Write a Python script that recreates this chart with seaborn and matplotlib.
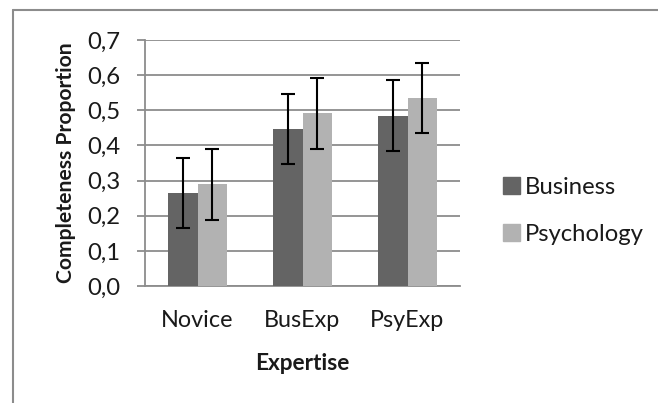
import matplotlib
matplotlib.use("Agg")
import matplotlib.pyplot as plt
import seaborn as sns
import pandas as pd
import numpy as np
from matplotlib.lines import Line2D
from matplotlib.patches import Rectangle

categories = ["Novice", "BusExp", "PsyExp"]
series = ["Business", "Psychology"]
business = [0.264, 0.446, 0.485]
psychology = [0.289, 0.491, 0.535]
business_err = [0.10, 0.10, 0.10]
psychology_err = [0.10, 0.10, 0.10]
yticks = [0.0, 0.1, 0.2, 0.3, 0.4, 0.5, 0.6, 0.7]
ytick_labels = ["0,0", "0,1", "0,2", "0,3", "0,4", "0,5", "0,6", "0,7"]

sns.set_theme(style="white")
plt.rcParams['font.family'] = ['Lato', 'DejaVu Sans']

df = pd.DataFrame({
    "Expertise": categories * 2,
    "Series": [series[0]] * 3 + [series[1]] * 3,
    "Value": business + psychology,
})
errs = business_err + psychology_err

fig = plt.figure(figsize=(6.58, 4.03), dpi=100)
ax = fig.add_axes([145/658, 1-286/403, (460-145)/658, (286-40)/403])

colors = {"Business": "#646464", "Psychology": "#b2b2b2"}
sns.barplot(data=df, x="Expertise", y="Value", hue="Series", order=categories,
            hue_order=series, palette=colors, width=0.57, gap=0, errorbar=None,
            legend=False, ax=ax, saturation=1, zorder=3, linewidth=0)

patches = list(ax.patches)
for s_i, s in enumerate(series):
    for c_i, c in enumerate(categories):
        p = patches[s_i * 3 + c_i]
        x = p.get_x() + p.get_width() / 2
        v = df[(df.Series == s) & (df.Expertise == c)].Value.values[0]
        e = errs[s_i * 3 + c_i]
        ax.errorbar([x], [v], yerr=[e], fmt="none", ecolor="black", elinewidth=1.5,
                    capsize=5, capthick=1.5, zorder=4)

ax.set_xlim(-0.5, 2.5)
ax.set_ylim(0, 0.7)
ax.set_yticks(yticks)
ax.set_yticklabels(ytick_labels)
ax.set_xticks([-0.5, 0.5, 1.5, 2.5], minor=True)
ax.tick_params(axis="x", which="major", length=0, pad=17, labelsize=16.8, colors="#1a1a1a")
ax.tick_params(axis="x", which="minor", length=5.5, width=1.3, color="#8c8c8c", direction="out")
ax.tick_params(axis="y", which="major", length=5.5, width=1.3, color="#8c8c8c", direction="out",
               pad=12, labelsize=17.2, labelcolor="#1a1a1a", left=True)
ax.yaxis.grid(True, color="#8c8c8c", linewidth=1.3, zorder=0)
ax.set_axisbelow(True)
for sp in ["top", "right"]:
    ax.spines[sp].set_visible(False)
for sp in ["left", "bottom"]:
    ax.spines[sp].set_color("#8c8c8c")
    ax.spines[sp].set_linewidth(1.3)

ax.set_xlabel("Expertise", fontsize=16.3, fontweight="bold", labelpad=16, color="#1a1a1a")
ax.set_ylabel("Completeness Proportion", fontsize=15.2, fontweight="bold", labelpad=8, color="#1a1a1a")

handles = [Rectangle((0, 0), 1, 1, color=colors[s]) for s in series]
leg = fig.legend(handles, series, loc="center left", bbox_to_anchor=(503/658, 1-211/403),
                 frameon=False, fontsize=17.2, handlelength=0.7, handleheight=0.7,
                 handletextpad=0.2, labelspacing=1.1, borderpad=0, borderaxespad=0)
for t in leg.get_texts():
    t.set_color("#1a1a1a")

fig.add_artist(Line2D([12.5/658, 12.5/658], [0, 1-9.5/403], color="#8c8c8c", linewidth=1.5,
                      transform=fig.transFigure))
fig.add_artist(Line2D([12.5/658, 1], [1-9.5/403, 1-9.5/403], color="#8c8c8c", linewidth=1.5,
                      transform=fig.transFigure))

fig.savefig("out.png", dpi=100)
